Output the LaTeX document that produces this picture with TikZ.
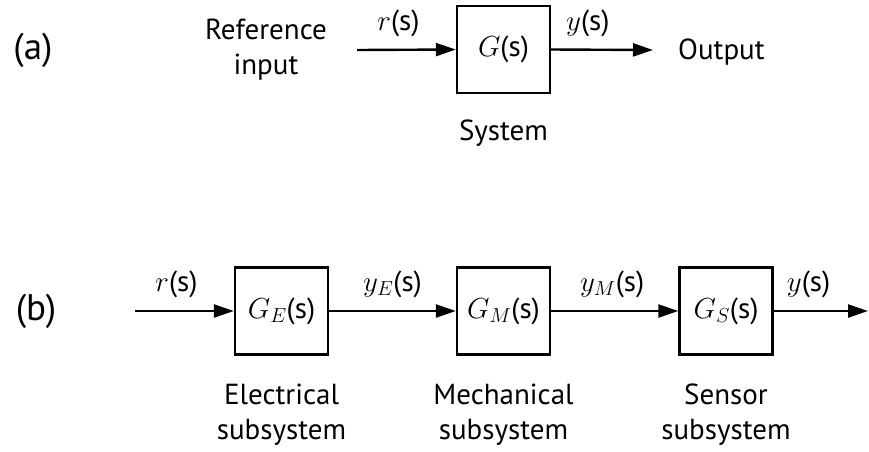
\RequirePackage{fix-cm}
\documentclass[tikz,border=0pt]{standalone}
\usepackage{fontspec}
\setmainfont{PT Sans}
\usetikzlibrary{arrows.meta}
\begin{document}
\begin{tikzpicture}[x=1pt,y=-1pt,
  blk/.style={draw,line width=2.4pt,inner sep=0pt,minimum width=93pt,minimum height=87pt,font=\fontsize{29}{34}\selectfont},
  sig/.style={line width=2.4pt,-{Triangle[length=20pt,width=13pt]}},
  lbl/.style={font=\fontsize{29}{35}\selectfont,align=center,inner sep=0pt},
  tag/.style={font=\fontsize{37}{42}\selectfont,inner sep=0pt}]
\useasboundingbox (0,0) rectangle (869,451);
% (a)
\node[tag] (ta) at (33,50) {(a)};
\node[blk] (G) at (503.5,49.5) {$G$(s)};
\node[lbl] (ref) at (266,50) {Reference\\input};
\coordinate (rin) at (357,50);
\coordinate (yout) at (653,50);
\node[lbl,anchor=west] (out) at (678,52) {Output};
\node[lbl] (sys) at (503.5,133) {System};
\draw[sig] (rin) -- (G.west) node[lbl,pos=0.42,above=12pt] (lr) {$r$(s)};
\draw[sig] (G.east) -- (yout) node[lbl,pos=0.36,above=12pt] (ly) {$y$(s)};
% (b)
\node[tag] (tb) at (36,311) {(b)};
\node[blk] (GE) at (281.5,311) {$G_E$(s)};
\node[blk] (GM) at (503.5,311) {$G_M$(s)};
\node[blk] (GS) at (726,311) {$G_S$(s)};
\coordinate (bin) at (135,311);
\coordinate (bout) at (868,311);
\draw[sig] (bin) -- (GE.west) node[lbl,pos=0.42,above=12pt] (lr2) {$r$(s)};
\draw[sig] (GE.east) -- (GM.west) node[lbl,pos=0.5,above=12pt] (lye) {$y_E$(s)};
\draw[sig] (GM.east) -- (GS.west) node[lbl,pos=0.48,above=12pt] (lym) {$y_M$(s)};
\draw[sig] (GS.east) -- (bout) node[lbl,pos=0.37,above=12pt] (ly2) {$y$(s)};
\node[lbl] (el) at (281.5,415) {Electrical\\subsystem};
\node[lbl] (me) at (503.5,415) {Mechanical\\subsystem};
\node[lbl] (se) at (726,415) {Sensor\\subsystem};
\end{tikzpicture}
\end{document}
